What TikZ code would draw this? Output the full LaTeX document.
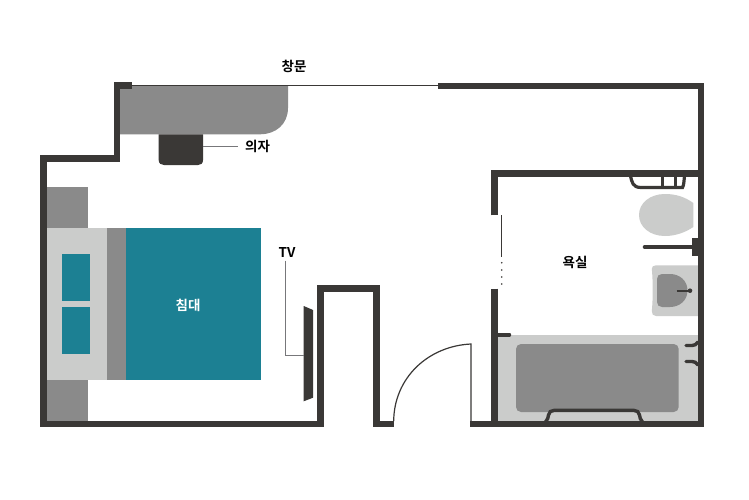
\documentclass[tikz,border=0pt]{standalone}
\usepackage{fontspec}
\newfontfamily\krfont{Noto Sans CJK KR Bold}
\definecolor{wallc}{HTML}{3A3836}
\definecolor{midg}{HTML}{8A8A8A}
\definecolor{lightg}{HTML}{CBCCCB}
\definecolor{tealc}{HTML}{1C8093}
\definecolor{leadc}{HTML}{77777A}
\tikzset{
  wall/.style={draw=wallc,line width=6.5pt,miter limit=10},
  fixture/.style={draw=wallc,line width=3.4pt,line cap=round},
  leader/.style={draw=leadc,line width=0.9pt},
  midfill/.style={fill=midg,draw=none},
  lightfill/.style={fill=lightg,draw=none},
  tealfill/.style={fill=tealc,draw=none},
  lbl/.style={font=\krfont\fontsize{13.5}{15}\selectfont,text=black,inner sep=0pt},
  lblw/.style={lbl,text=white}
}
\begin{document}
\begin{tikzpicture}[x=1pt,y=-1pt]
\useasboundingbox[fill=white] (0,0) rectangle (749,500);
% desk
\fill[midfill] (120,86) -- (288,86) -- (288,108) .. controls (288,124) and (276,134.3) .. (260,134.3) -- (120,134.3) -- cycle;
% chair
\fill[wallc] (158.7,134.3) -- (203,134.3) -- (203,160) .. controls (203,163.5) and (201,165) .. (198,165) -- (164,165) .. controls (161,165) and (158.7,163.5) .. (158.7,160) -- cycle;
% bed
\fill[midfill] (47,186.7) rectangle (87.7,228);
\fill[midfill] (47,379.7) rectangle (87.7,421);
\fill[lightfill] (47,228) rectangle (107,379.7);
\fill[midfill] (107,228) rectangle (125.7,379.7);
\fill[tealfill] (125.7,228) rectangle (260.7,379.7);
\fill[tealfill] (61.7,254) rectangle (89.7,301);
\fill[tealfill] (61.7,307.3) rectangle (89.7,354.3);
% tv
\fill[wallc] (303.7,306) -- (313,310) -- (313,397.7) -- (303.7,401.3) -- cycle;
% labels
\node[lbl] (window) at (294,66) {창문};
\node[lbl] (chairlabel) at (257.5,146.5) {의자};
\node[lblw] (bedlabel) at (188,305.5) {침대};
\node[lbl] (tvlabel) at (287,252.5) {TV};
\node[lbl] (bathlabel) at (575,262) {욕실};
\coordinate (chairedge) at (203,146.6);
\coordinate (tvedge) at (303.7,355);
\draw[leader] (chairedge) -- (238,146.6);
\draw[leader] (285.5,260.5) -- (285.5,355) -- (tvedge);
% thin window line
\draw[draw=wallc,line width=1.1pt] (131,85.4) -- (440,85.4);
% tub
\fill[lightfill] (497,335) rectangle (698,421);
\fill[midfill,rounded corners=5pt] (516,344) rectangle (678.7,412);
\draw[fixture,fill=lightg,line cap=butt] (545.5,422) .. controls (548,420) and (548,417) .. (548.5,415) .. controls (549,412) and (551,410.4) .. (554,410.4) -- (634,410.4) .. controls (637,410.4) and (639,412) .. (639.5,415) .. controls (640,417) and (640,420) .. (642.5,422);
\draw[fixture] (497,334.8) -- (509.5,334.8);
\draw[fixture] (686,345.5) -- (692,345.5) .. controls (695,345.5) and (696,344.5) .. (698,342);
\draw[fixture] (686,361.5) -- (692,361.5) .. controls (695,361.5) and (696,362.5) .. (698,365);
% sink
\fill[lightfill] (699,265.3) -- (656,265.3) .. controls (653,265.3) and (651.7,267) .. (651.8,269) .. controls (653,280) and (653,300) .. (651.8,311) .. controls (651.7,314) and (653,316) .. (656,316) -- (699,316) -- cycle;
\fill[midfill] (662,274) -- (670,274) .. controls (680,274) and (687.5,281) .. (687.5,290.5) .. controls (687.5,300) and (680,307) .. (670,307) -- (662,307) .. controls (659,307) and (657,305) .. (657,302) -- (657,279) .. controls (657,276) and (659,274) .. (662,274) -- cycle;
\draw[draw=wallc,line width=1.8pt] (676.7,290.7) -- (690,290.7);
\fill[wallc] (690,290.7) circle (2.3);
% toilet
\fill[lightfill] (693.3,203) .. controls (685,197) and (676,194) .. (665,194) .. controls (650,194) and (639,203) .. (639,215) .. controls (639,227) and (650,236) .. (665,236) .. controls (676,236) and (686,232) .. (693.3,227) -- cycle;
% toilet partition
\draw[draw=wallc,line width=3.8pt,line cap=round] (644.6,247) -- (695,247);
\fill[wallc] (691.7,237.7) rectangle (699,256);
% shelf
\draw[draw=wallc,line width=3.2pt,line cap=butt] (630.5,176) .. controls (632,182) and (632.5,187.5) .. (641,187.5) -- (682.5,187.5) .. controls (684,185) and (684,180) .. (684.5,176);
\draw[draw=wallc,line width=3pt] (662,176) -- (662,187.7);
\draw[draw=wallc,line width=3pt] (675,176) -- (675,187.7);
% walls
\draw[wall] (131.7,85.7) -- (117.2,85.7) -- (117.2,158.5) -- (43.7,158.5) -- (43.7,424) -- (320.5,424) -- (320.5,288.3) -- (376.5,288.3) -- (376.5,424) -- (393.7,424);
\draw[wall] (470.3,424) -- (701,424) -- (701,86) -- (438,86);
\draw[wall] (494.3,215.3) -- (494.3,173.7) -- (701,173.7);
\draw[wall] (494.3,288.7) -- (494.3,424);
% door
\draw[draw=wallc,line width=1.2pt] (393.7,421) .. controls (394,378) and (428,346) .. (471,344) -- (471,421);
% bathroom door
\draw[draw=wallc,line width=1.1pt] (501.7,215) -- (501.7,257);
\foreach \yy in {262.7,270,277,284} \fill[wallc] (501.7,\yy) circle (0.9);
\end{tikzpicture}
\end{document}
